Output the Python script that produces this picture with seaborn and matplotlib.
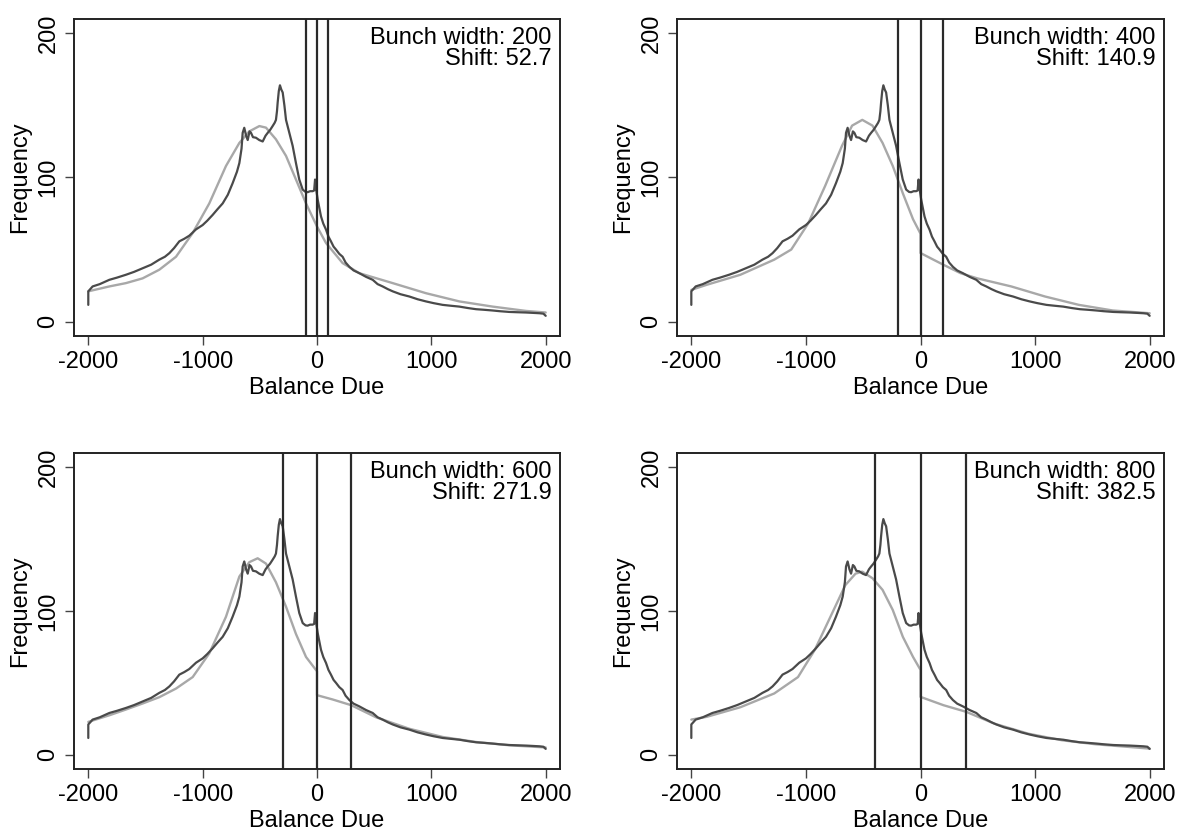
import numpy as np
import pandas as pd
import matplotlib
matplotlib.use("Agg")
import matplotlib.pyplot as plt
import seaborn as sns

# ============================
# Data
# ============================

# observed frequency, same in every panel
obs_x = [-2000, -2000, -1962, -1900, -1816, -1750, -1671, -1600, -1525, -1450, -1379,
         -1330, -1291, -1250, -1204, -1160, -1117, -1058, -1000, -960, -913, -870,
         -825, -780, -738, -700, -679, -660, -650, -636, -620, -606, -590, -577,
         -560, -534, -505, -475, -450, -431, -410, -388, -370, -359, -350, -344,
         -334, -324, -312, -300, -285, -271, -242, -213, -184, -155, -125, -100,
         -82, -60, -38, -25, -17, -9, 6, 20, 35, 55, 79, 100, 122, 145, 166, 195,
         224, 250, 283, 320, 370, 430, 487, 530, 574, 620, 662, 730, 808, 880,
         953, 1020, 1099, 1170, 1245, 1320, 1391, 1460, 1536, 1600, 1682, 1750,
         1828, 1900, 1945, 1980, 2000]
obs_y = [11.6, 21, 24.4, 26, 29, 30.5, 32.5, 34.5, 37, 39.5, 43,
         45, 47.5, 51, 55.7, 57.5, 59.6, 64, 67, 70, 74, 78,
         82, 88, 96, 104, 110, 120, 131, 134.5, 129, 126, 132, 131,
         128, 127.6, 126, 125, 129, 131, 133, 135.7, 138, 140, 146, 152,
         160, 164, 161, 159, 150, 140, 131, 122, 110, 98.6, 91.6, 90,
         89.8, 90.5, 90.5, 91, 98.6, 92.8, 84.7, 79, 73, 68, 63.8, 59, 55.7, 52, 50, 47,
         45, 41, 38, 35.5, 33.6, 31, 29, 26, 24.4, 22.5, 21, 19, 17.4, 15.5,
         14, 12.8, 11.6, 11, 10.4, 9.4, 8.6, 8.2, 7.7, 7.2, 6.7, 6.5,
         6.3, 6.0, 5.8, 5.5, 4]

# counterfactual, one per bunch width
cf1_x = [-2000, -1816, -1671, -1525, -1379, -1233, -1087, -942, -796, -679, -592,
         -504, -446, -359, -271, -184, -96, 0, 79, 224, 370, 662, 953, 1245, 1536,
         1828, 2000]
cf1_y = [21, 24.4, 26.7, 30, 36, 45, 61.5, 82, 108, 124, 132,
         135.7, 134.6, 126.5, 115, 98.6, 82, 66, 54.5, 40.6, 33.6, 26.7, 19.7, 14, 10.4,
         7.4, 6.3]

cf2_x = [-2000, -1867, -1572, -1276, -1128, -981, -833, -685, -597, -508, -419,
         -331, -242, -154, -65, 0, 0, 112, 201, 349, 496, 792, 1087, 1382, 1678, 2000]
cf2_y = [22, 25.5, 32.5, 43, 50, 68, 94, 122, 136, 140, 136,
         124, 108, 89, 71, 61, 47.6, 43, 39.4, 33.6, 30, 24.4, 17.4, 11.6, 7.7, 5.8]

cf3_x = [-2000, -1816, -1671, -1525, -1379, -1233, -1087, -942, -796, -679, -592,
         -519, -446, -359, -271, -184, -96, 0, 0, 137, 300, 516, 808, 1099, 1391,
         1682, 2000]
cf3_y = [22.8, 27.4, 31.4, 35.6, 40, 46, 54, 70.5, 96, 124, 134,
         136.7, 133, 120, 103, 84, 68, 58, 41.4, 38.4, 34.4, 26, 18, 12.3, 8.8,
         6.5, 5]

cf4_x = [-2000, -1867, -1572, -1276, -1069, -922, -774, -656, -567, -508, -419,
         -331, -242, -154, -65, 0, 0, 201, 399, 644, 940, 1235, 1530, 2000]
cf4_y = [24.4, 26.3, 33, 42.6, 54, 73, 98, 118, 126, 127.4, 122.8,
         114.7, 100.7, 82, 68, 59, 40.2, 34.4, 29.8, 21.6, 14.6, 10, 7.2, 4.2]

widths = [200, 400, 600, 800]
shifts = ["52.7", "140.9", "271.9", "382.5"]
cf_x = [cf1_x, cf2_x, cf3_x, cf4_x]
cf_y = [cf1_y, cf2_y, cf3_y, cf4_y]

# ============================
# Style
# ============================

sns.set_style("ticks")
plt.rcParams["font.family"] = ["Liberation Sans", "DejaVu Sans"]
plt.rcParams["font.size"] = 17
plt.rcParams["axes.unicode_minus"] = False
plt.rcParams["axes.linewidth"] = 1.4
plt.rcParams["axes.edgecolor"] = "#222222"
plt.rcParams["text.color"] = "black"
plt.rcParams["axes.labelcolor"] = "black"
plt.rcParams["xtick.labelcolor"] = "black"
plt.rcParams["ytick.labelcolor"] = "black"

fig = plt.figure(figsize=(11.79, 8.30), dpi=100)

positions = [
    [74 / 1179, 1 - 336 / 830, 486 / 1179, 317 / 830],
    [677 / 1179, 1 - 336 / 830, 487 / 1179, 317 / 830],
    [74 / 1179, 1 - 769 / 830, 486 / 1179, 316 / 830],
    [677 / 1179, 1 - 769 / 830, 487 / 1179, 316 / 830],
]

obs = pd.DataFrame({"x": obs_x, "y": obs_y})

for i in range(4):
    ax = fig.add_axes(positions[i])
    cf = pd.DataFrame({"x": cf_x[i], "y": cf_y[i]})

    sns.lineplot(data=cf, x="x", y="y", ax=ax, color="#a8a8a8", lw=1.7,
                 estimator=None, sort=False)
    sns.lineplot(data=obs, x="x", y="y", ax=ax, color="#4a4a4a", lw=1.6,
                 estimator=None, sort=False)

    half = widths[i] / 2
    for v in [-half, 0, half]:
        ax.axvline(v, color="#2a2a2a", lw=1.6)

    ax.set_xlim(-2125, 2125)
    ax.set_ylim(-10, 210)
    ax.set_xticks([-2000, -1000, 0, 1000, 2000])
    ax.set_yticks([0, 100, 200])
    ax.set_yticklabels(["0", "100", "200"], rotation=90, va="center")
    ax.tick_params(axis="both", direction="out", length=6.5, width=1.0,
                   color="#444444", labelsize=17, bottom=True, left=True)
    ax.tick_params(axis="x", pad=4)
    ax.tick_params(axis="y", pad=4)
    ax.set_xlabel("Balance Due", fontsize=17, labelpad=3)
    ax.set_ylabel("Frequency", fontsize=17, labelpad=4.5)

    for s in ax.spines.values():
        s.set_visible(True)

    ax.text(0.983, 0.975, f"Bunch width: {widths[i]}\nShift: {shifts[i]}",
            transform=ax.transAxes, ha="right", va="top", fontsize=17,
            linespacing=0.95)

plt.savefig("out.png", dpi=100)
